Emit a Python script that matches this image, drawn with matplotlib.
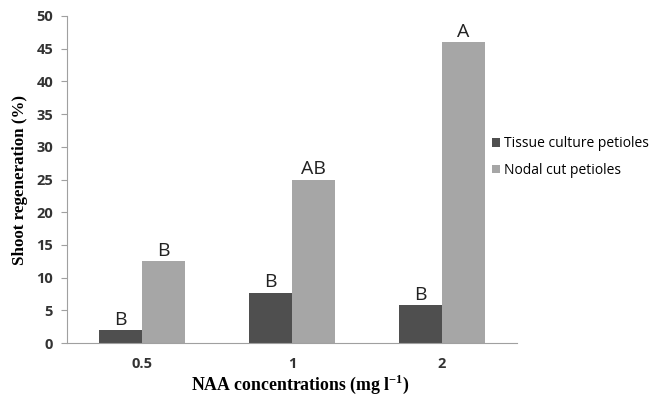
import matplotlib
matplotlib.use("Agg")
import matplotlib.pyplot as plt
import numpy as np

plt.rcParams["mathtext.fontset"] = "custom"
plt.rcParams["mathtext.rm"] = "Liberation Serif"
plt.rcParams["mathtext.bf"] = "Liberation Serif:bold"

categories = ["0.5", "1", "2"]
tissue = [2.0, 7.7, 5.8]
nodal = [12.5, 25.0, 46.0]
tissue_letters = ["B", "B", "B"]
nodal_letters = ["B", "AB", "A"]
yticks = [0, 5, 10, 15, 20, 25, 30, 35, 40, 45, 50]

fig = plt.figure(figsize=(6.54, 3.96), dpi=100)
ax = fig.add_axes([0.1024, 0.1338, 0.688, 0.8258])

x = np.arange(len(categories))
w = 0.287
b1 = ax.bar(x - w/2, tissue, w, color="#4f4f4f", label="Tissue culture petioles")
b2 = ax.bar(x + w/2, nodal, w, color="#a6a6a6", label="Nodal cut petioles")

for xi, v, t in zip(x - w/2, tissue, tissue_letters):
    ax.text(xi, v + 0.2, t, ha="center", va="bottom", fontsize=14, family="Open Sans", color="#222222")
for xi, v, t in zip(x + w/2, nodal, nodal_letters):
    ax.text(xi, v + 0.2, t, ha="center", va="bottom", fontsize=14, family="Open Sans", color="#222222")

ax.set_xlim(-0.5, 2.5)
ax.set_ylim(0, 50)
ax.set_yticks(yticks)
ax.set_xticks(x)
ax.set_xticklabels(categories)
for s in ["top", "right"]:
    ax.spines[s].set_visible(False)
for s in ["left", "bottom"]:
    ax.spines[s].set_color("#a0a0a0")
ax.tick_params(axis="y", length=4, color="#a0a0a0", labelsize=10.5, pad=6)
ax.tick_params(axis="x", length=0, labelsize=10.5, pad=10)
for lab in ax.get_xticklabels() + ax.get_yticklabels():
    lab.set_fontweight("bold")
    lab.set_family("Open Sans")
    lab.set_color("#333333")

ax.set_ylabel("Shoot regeneration (%)", family="Liberation Serif", fontweight="bold", fontsize=12.2, labelpad=6)
fig.text(0.46, 0.03, r"NAA concentrations (mg l$^{\mathbf{-1}}$)", family="Liberation Serif",
         fontweight="bold", fontsize=12.8, ha="center", va="center")

leg = fig.legend(handles=[b1, b2], loc="upper left", bbox_to_anchor=(0.733, 0.688), frameon=False,
                 prop={"family": "Open Sans", "size": 10}, handlelength=0.6, handleheight=0.6,
                 handletextpad=0.25, labelspacing=0.85)

fig.savefig("out.png", dpi=100)
